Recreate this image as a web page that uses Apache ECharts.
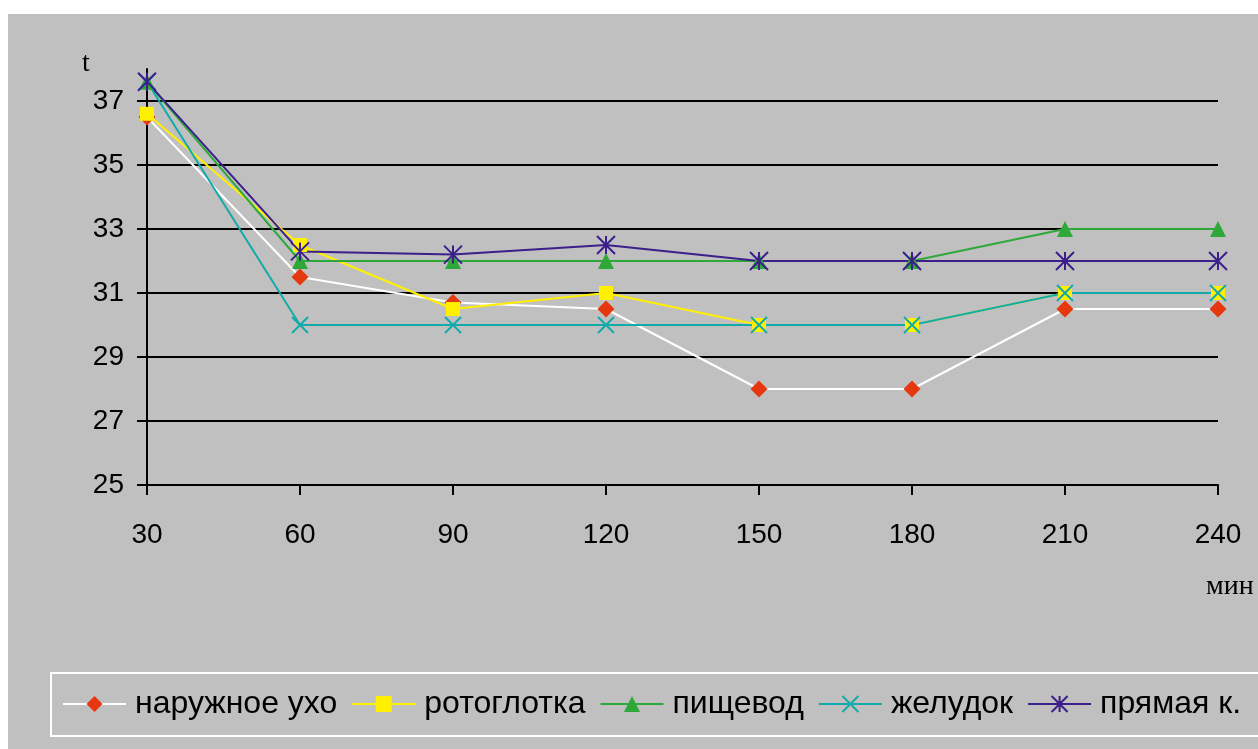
<!DOCTYPE html>
<html>
<head>
<meta charset="utf-8">
<script src="https://cdn.jsdelivr.net/npm/echarts@6/dist/echarts.min.js"></script>
<style>
  html, body { margin: 0; padding: 0; background: #ffffff; }
  #chart { width: 1258px; height: 749px; }
</style>
</head>
<body>
<div id="chart"></div>
<script>
// ---- data ----
const categories = ['30', '60', '90', '120', '150', '180', '210', '240'];
const yTicks = [25, 27, 29, 31, 33, 35, 37];
const seriesNames = ['наружное ухо', 'ротоглотка', 'пищевод', 'желудок', 'прямая к.'];
const earValues     = [36.5, 31.5, 30.7, 30.5, 28.0, 28.0, 30.5, 30.5];
const pharynxValues = [36.6, 32.5, 30.5, 31.0, 30.0, 30.0, 31.0, 31.0];
const esophValues   = [37.6, 32.0, 32.0, 32.0, 32.0, 32.0, 33.0, 33.0];
const stomachValues = [37.6, 30.0, 30.0, 30.0, 30.0, 30.0, 31.0, 31.0];
const rectumValues  = [37.6, 32.3, 32.2, 32.5, 32.0, 32.0, 32.0, 32.0];
const yAxisName = 't';
const xAxisName = 'мин';

const CROSS = 'path://M0,0L10,10M10,0L0,10';
const ASTER = 'path://M0,0L10,10M10,0L0,10M5,0L5,10';

function mk(name, data, lineColor, markColor, symbol, size, stroke) {
  const s = {
    name: name,
    type: 'line',
    data: data,
    symbol: symbol,
    symbolSize: size,
    showSymbol: true,
    lineStyle: { color: lineColor, width: 2 },
    itemStyle: { color: markColor, opacity: 1 },
    emphasis: { disabled: true }
  };
  if (stroke) {
    s.itemStyle.borderColor = markColor;
    s.itemStyle.borderWidth = 2;
  }
  return s;
}

const chart = echarts.init(document.getElementById('chart'), null, { renderer: 'canvas' });
chart.setOption({
  animation: false,
  backgroundColor: '#ffffff',
  graphic: [
    { type: 'rect', z: -10, silent: true,
      shape: { x: 8, y: 14, width: 1260, height: 740 },
      style: { fill: '#c0c0c0' } },
    { type: 'text', z: 10, silent: true,
      style: { x: 86, y: 64, text: yAxisName, align: 'center', verticalAlign: 'middle',
               font: '28px "Liberation Serif"', fill: '#000' } },
    { type: 'text', z: 10, silent: true,
      style: { x: 1206, y: 587, text: xAxisName, align: 'left', verticalAlign: 'middle',
               font: '28px "Liberation Serif"', fill: '#000' } }
  ],
  grid: { left: 147, right: 40, top: 69, bottom: 264, containLabel: false },
  xAxis: {
    type: 'category',
    data: categories,
    boundaryGap: false,
    axisLine: { show: true, lineStyle: { color: '#000', width: 2 } },
    axisTick: { show: true, length: 10, lineStyle: { color: '#000', width: 2 } },
    axisLabel: { color: '#000', fontFamily: 'Liberation Sans', fontSize: 28, margin: 36 },
    splitLine: { show: false }
  },
  yAxis: {
    type: 'value',
    min: 25,
    max: 38,
    axisLine: { show: true, lineStyle: { color: '#000', width: 2 } },
    axisTick: { show: true, length: 10, customValues: yTicks, lineStyle: { color: '#000', width: 2 } },
    axisLabel: { color: '#000', fontFamily: 'Liberation Sans', fontSize: 28, margin: 23, customValues: yTicks },
    splitLine: { show: true, lineStyle: { color: '#000', width: 2 } }
  },
  legend: {
    left: 51,
    top: 673,
    width: 1300,
    orient: 'horizontal',
    padding: [15, 20, 16, 11],
    borderColor: '#ffffff',
    borderWidth: 2,
    itemWidth: 63,
    itemHeight: 20,
    itemGap: 14,
    textStyle: { color: '#000', fontFamily: 'Liberation Sans', fontSize: 32, lineHeight: 32, padding: [0, 0, 0, 4] },
    data: seriesNames
  },
  series: [
    mk(seriesNames[0], earValues, '#ffffff', '#e5380f', 'diamond', 17, false),
    mk(seriesNames[1], pharynxValues, '#fff000', '#fff000', 'rect', 14, false),
    mk(seriesNames[2], esophValues, '#2fa83a', '#2fa83a', 'triangle', 16, false),
    mk(seriesNames[3], stomachValues, '#13aaaa', '#13aaaa', CROSS, 16, true),
    mk(seriesNames[4], rectumValues, '#3c1f8a', '#3c1f8a', ASTER, 18, true)
  ]
});
</script>
</body>
</html>
